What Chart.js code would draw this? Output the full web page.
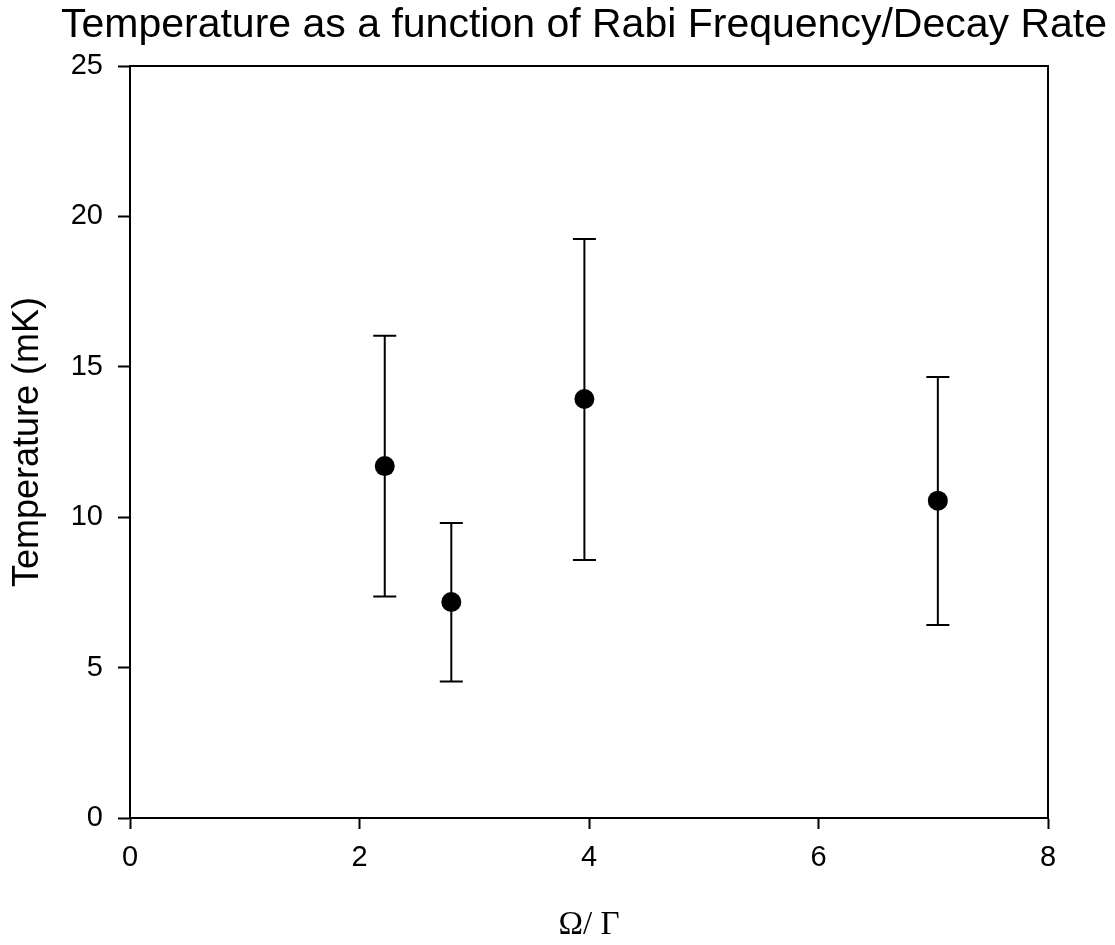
<!DOCTYPE html>
<html>
<head>
<meta charset="utf-8">
<script src="https://cdn.jsdelivr.net/npm/chart.js@4/dist/chart.umd.min.js"></script>
<style>
  html, body { margin: 0; padding: 0; background: #fff; }
  #wrap { width: 1115px; height: 945px; }
</style>
</head>
<body>
<div id="wrap"><canvas id="chart" width="1115" height="945"></canvas></div>
<script>
var rabiRatio = [2.22, 2.80, 3.96, 7.04];
var temperature = [11.70, 7.18, 13.93, 10.55];
var errUpper = [16.03, 9.81, 19.25, 14.66];
var errLower = [7.36, 4.54, 8.58, 6.42];
var xTicks = [0, 2, 4, 6, 8];
var yTicks = [0, 5, 10, 15, 20, 25];

(function () {
  'use strict';

  var sans = "'Liberation Sans', Arial, sans-serif";
  var serif = "'Liberation Serif', 'Times New Roman', serif";

  function fixedTicks(list) {
    return function (scale) {
      scale.ticks = list.map(function (v) { return { value: v }; });
    };
  }

  var errorBars = {
    id: 'errorBars',
    beforeDatasetsDraw: function (chart) {
      var x = chart.scales.x, y = chart.scales.y, ctx = chart.ctx;
      var cap = 11.5;
      ctx.save();
      ctx.strokeStyle = '#000';
      ctx.lineWidth = 2;
      for (var i = 0; i < rabiRatio.length; i++) {
        var px = x.getPixelForValue(rabiRatio[i]);
        var top = y.getPixelForValue(errUpper[i]);
        var bot = y.getPixelForValue(errLower[i]);
        ctx.beginPath();
        ctx.moveTo(px, top); ctx.lineTo(px, bot);
        ctx.moveTo(px - cap, top); ctx.lineTo(px + cap, top);
        ctx.moveTo(px - cap, bot); ctx.lineTo(px + cap, bot);
        ctx.stroke();
      }
      ctx.restore();
    }
  };

  var points = rabiRatio.map(function (v, i) { return { x: v, y: temperature[i] }; });

  new Chart(document.getElementById('chart'), {
    type: 'scatter',
    data: {
      datasets: [{
        data: points,
        backgroundColor: '#000',
        borderColor: '#000',
        pointRadius: 10,
        pointHoverRadius: 10,
        borderWidth: 0
      }]
    },
    options: {
      responsive: false,
      animation: false,
      events: [],
      layout: { padding: { left: 0, right: 8, top: 0, bottom: 0 } },
      plugins: {
        legend: { display: false },
        tooltip: { enabled: false },
        title: {
          display: true,
          text: 'Temperature as a function of Rabi Frequency/Decay Rate',
          align: 'end',
          color: '#000',
          font: { family: sans, size: 41, weight: 'normal' },
          padding: { top: 1, bottom: 15.8 }
        }
      },
      scales: {
        x: {
          type: 'linear',
          position: 'bottom',
          min: 0, max: 8,
          afterBuildTicks: fixedTicks(xTicks),
          afterFit: function (s) { s.height = 127; },
          grid: { display: true, drawOnChartArea: false, drawTicks: true, tickLength: 11, tickColor: '#000', tickWidth: 2 },
          border: { display: true, color: '#000', width: 2 },
          ticks: { color: '#000', padding: 12, maxRotation: 0, font: { family: sans, size: 29 } },
          title: {
            display: true,
            text: 'Ω/ Γ',
            color: '#000',
            font: { family: serif, size: 33 },
            padding: { top: 0, bottom: 0 }
          }
        },
        x2: {
          type: 'linear',
          position: 'top',
          min: 0, max: 8,
          afterFit: function (s) { s.height = 0; },
          grid: { display: false },
          border: { display: true, color: '#000', width: 2 },
          ticks: { display: false }
        },
        y: {
          type: 'linear',
          position: 'left',
          min: 0, max: 25,
          afterBuildTicks: fixedTicks(yTicks),
          afterFit: function (s) { s.width = 130; },
          grid: { display: true, drawOnChartArea: false, drawTicks: true, tickLength: 12, tickColor: '#000', tickWidth: 2 },
          border: { display: true, color: '#000', width: 2 },
          ticks: { color: '#000', padding: 15, font: { family: sans, size: 29 } },
          title: {
            display: true,
            text: 'Temperature (mK)',
            color: '#000',
            font: { family: sans, size: 36 },
            padding: { top: 6, bottom: 0 }
          }
        },
        y2: {
          type: 'linear',
          position: 'right',
          min: 0, max: 25,
          afterFit: function (s) { s.width = 59; },
          grid: { display: false },
          border: { display: true, color: '#000', width: 2 },
          ticks: { display: false }
        }
      }
    },
    plugins: [errorBars]
  });
})();
</script>
</body>
</html>
